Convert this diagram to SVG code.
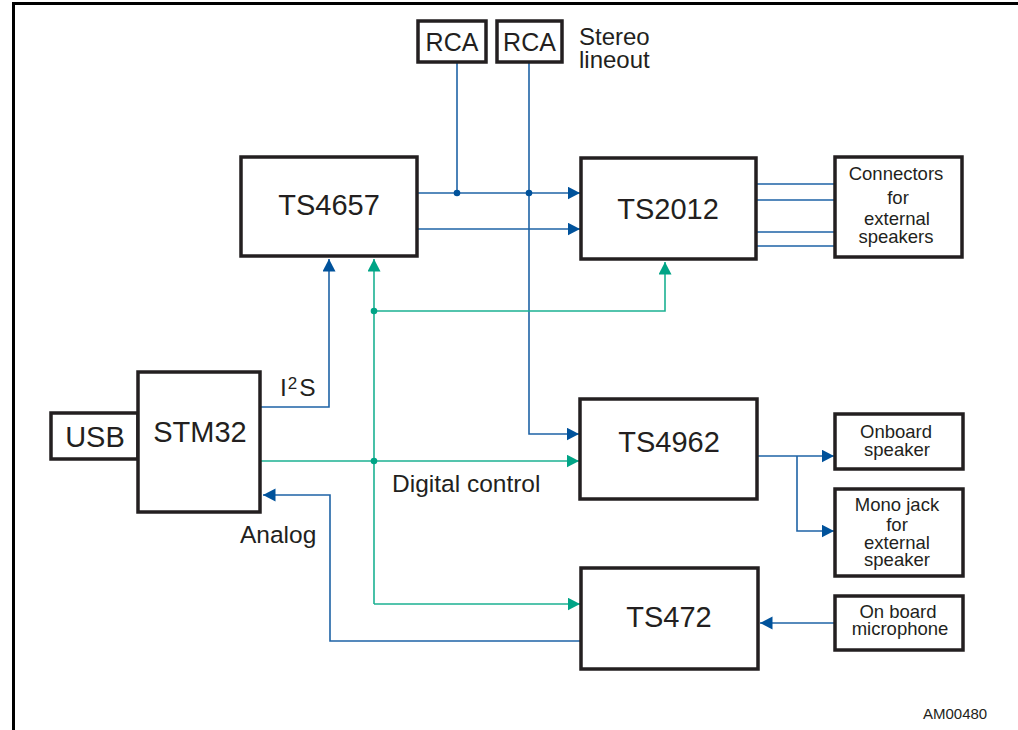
<svg xmlns="http://www.w3.org/2000/svg" width="1018" height="730" viewBox="0 0 1018 730">
<style>
.box{fill:#fff;stroke:#231f20;stroke-width:3.5}
.t{font-family:"Liberation Sans",Arial,sans-serif;fill:#231f20}
.big{font-size:29px;text-anchor:middle}
.sm{font-size:18.5px;text-anchor:middle}
.lab{font-size:24.5px}
.b{fill:none;stroke:#1e63a6;stroke-width:1.6}
.g{fill:none;stroke:#1bb192;stroke-width:1.6}
</style>
<defs>
<marker id="ab" markerUnits="userSpaceOnUse" markerWidth="14" markerHeight="14" refX="12.5" refY="6.5" orient="auto"><path d="M0,0 L12.5,6.5 L0,13 z" fill="#00529b"/></marker>
<marker id="ag" markerUnits="userSpaceOnUse" markerWidth="14" markerHeight="14" refX="12.5" refY="6.5" orient="auto"><path d="M0,0 L12.5,6.5 L0,13 z" fill="#00a486"/></marker>
</defs>
<rect width="1018" height="730" fill="#fff"/>
<path d="M13.5,730 V3.5 H1018" fill="none" stroke="#000" stroke-width="3"/>
<g id="connectors">
<path class="b" d="M457,62 V193"/>
<path class="b" d="M529,62 V434 H579" marker-end="url(#ab)"/>
<path class="b" d="M418,193 H580" marker-end="url(#ab)"/>
<path class="b" d="M418,229 H580" marker-end="url(#ab)"/>
<circle cx="457" cy="193" r="3.3" fill="#00529b"/>
<circle cx="529" cy="193" r="3.3" fill="#00529b"/>
<path class="b" d="M757,184 H835 M757,200 H835 M757,232 H835 M757,246 H835"/>
<path class="b" d="M261,407 H329 V259" marker-end="url(#ab)"/>
<path class="g" d="M374,604 V259" marker-end="url(#ag)"/>
<path class="g" d="M374,311 H665 V262" marker-end="url(#ag)"/>
<circle cx="374" cy="311" r="3.3" fill="#00a486"/>
<path class="g" d="M261,461 H579" marker-end="url(#ag)"/>
<circle cx="374" cy="461" r="3.3" fill="#00a486"/>
<path class="g" d="M374,604 H580" marker-end="url(#ag)"/>
<path class="b" d="M580,641 H330 V495 H263" marker-end="url(#ab)"/>
<path class="b" d="M757,456 H834" marker-end="url(#ab)"/>
<path class="b" d="M797,456 V531 H834" marker-end="url(#ab)"/>
<path class="b" d="M835,623 H760" marker-end="url(#ab)"/>
</g>
<g id="rca1"><rect class="box" x="418" y="21" width="68" height="41"/><text class="t" x="452" y="51" font-size="25" text-anchor="middle">RCA</text></g>
<g id="rca2"><rect class="box" x="497" y="21" width="65" height="41"/><text class="t" x="529.5" y="51" font-size="25" text-anchor="middle">RCA</text></g>
<g id="stereo"><text class="t" font-size="24"><tspan x="579" y="45">Stereo</tspan><tspan x="579" y="68">lineout</tspan></text></g>
<g id="ts4657"><rect class="box" x="241" y="157" width="176" height="99"/><text class="t big" x="329" y="215">TS4657</text></g>
<g id="ts2012"><rect class="box" x="581" y="158" width="175" height="101"/><text class="t big" x="668" y="219">TS2012</text></g>
<g id="connectorsbox"><rect class="box" x="835" y="157" width="127" height="100"/><text class="t sm"><tspan x="896" y="180">Connectors</tspan><tspan x="898" y="204">for</tspan><tspan x="897" y="225">external</tspan><tspan x="896" y="243">speakers</tspan></text></g>
<g id="usb"><rect class="box" x="51" y="413" width="87" height="46"/><text class="t big" x="95" y="447">USB</text></g>
<g id="stm32"><rect class="box" x="138" y="372" width="122" height="140"/><text class="t big" x="200" y="442">STM32</text></g>
<g id="ts4962"><rect class="box" x="580" y="399" width="177" height="100"/><text class="t big" x="669" y="452">TS4962</text></g>
<g id="onboardspeaker"><rect class="box" x="835" y="414" width="128" height="55"/><text class="t sm"><tspan x="896" y="438">Onboard</tspan><tspan x="897" y="456">speaker</tspan></text></g>
<g id="monojack"><rect class="box" x="835" y="489" width="128" height="87"/><text class="t sm"><tspan x="897" y="511">Mono jack</tspan><tspan x="897" y="531">for</tspan><tspan x="897" y="549">external</tspan><tspan x="897" y="566">speaker</tspan></text></g>
<g id="ts472"><rect class="box" x="581" y="568" width="177" height="101"/><text class="t big" x="669" y="627">TS472</text></g>
<g id="microphone"><rect class="box" x="835" y="596" width="128" height="54"/><text class="t sm"><tspan x="898" y="618">On board</tspan><tspan x="900" y="635">microphone</tspan></text></g>
<g id="labels">
<text class="t lab" x="280" y="396">I<tspan font-size="17" dx="1" dy="-7">2</tspan><tspan dx="2" dy="7">S</tspan></text>
<text class="t lab" x="392" y="492">Digital control</text>
<text class="t lab" x="240" y="543">Analog</text>
<text class="t" x="923" y="719" font-size="15">AM00480</text>
</g>
</svg>
